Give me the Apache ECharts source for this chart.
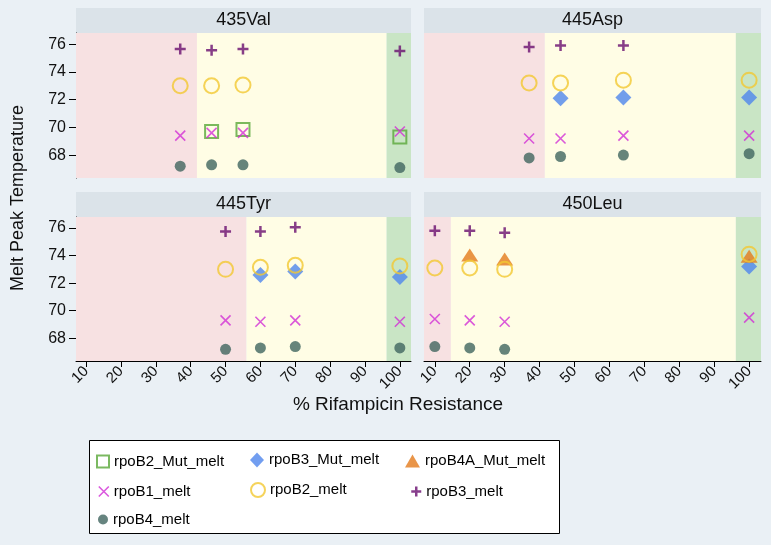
<!DOCTYPE html>
<html><head><meta charset="utf-8">
<script src="https://cdn.jsdelivr.net/npm/echarts@6/dist/echarts.min.js"></script>
<style>html,body{margin:0;padding:0;background:#eaf0f5}#c{width:771px;height:545px}</style>
</head><body><div id="c"></div>
<script>
// ---- data ----
const panels = ['435Val', '445Asp', '445Tyr', '450Leu'];
const xVal = [37, 46, 55, 100];
const xAsp = [37, 46, 64, 100];
const xTyr = [50, 60, 70, 100];
const xLeu = [10, 20, 30, 100];
const panelX = [xVal, xAsp, xTyr, xLeu];
// zone boundaries: [end of pink, start of green]
const zoneVal = [41.8, 96.2];
const zoneAsp = [41.5, 96.2];
const zoneTyr = [56.0, 96.2];
const zoneLeu = [14.6, 96.2];
const zones = [zoneVal, zoneAsp, zoneTyr, zoneLeu];

const xTicks = [10, 20, 30, 40, 50, 60, 70, 80, 90, 100];
const yTicks = [68, 70, 72, 74, 76];

const seriesNames = ['rpoB2_Mut_melt', 'rpoB3_Mut_melt', 'rpoB4A_Mut_melt', 'rpoB1_melt', 'rpoB2_melt', 'rpoB3_melt', 'rpoB4_melt'];
// values per panel [Val, Asp, Tyr, Leu], aligned with panel x arrays
const rpoB2_Mut_melt = [[null, 69.7, 69.85, 69.3], [null, null, null, null], [null, null, null, null], [null, null, null, null]];
const rpoB3_Mut_melt = [[null, null, null, null], [null, 72.1, 72.15, 72.15], [null, 72.6, 72.85, 72.45], [null, null, null, 73.2]];
const rpoB4A_Mut_melt = [[null, null, null, null], [null, null, null, null], [null, null, null, null], [null, 74.05, 73.75, 73.95]];
const rpoB1_melt = [[69.4, 69.6, 69.6, 69.7], [69.2, 69.2, 69.4, 69.4], [69.3, 69.2, 69.3, 69.2], [69.4, 69.3, 69.2, 69.5]];
const rpoB2_melt = [[73.0, 73.0, 73.05, null], [73.2, 73.2, 73.4, 73.4], [73.0, 73.15, 73.3, 73.25], [73.1, 73.1, 73.0, 74.1]];
const rpoB3_melt = [[75.65, 75.55, 75.65, 75.5], [75.8, 75.9, 75.9, null], [75.75, 75.75, 76.05, null], [75.8, 75.8, 75.65, null]];
const rpoB4_melt = [[67.2, 67.3, 67.3, 67.1], [67.8, 67.9, 68.0, 68.1], [67.2, 67.3, 67.4, 67.3], [67.4, 67.3, 67.2, null]];
const seriesValues = [rpoB2_Mut_melt, rpoB3_Mut_melt, rpoB4A_Mut_melt, rpoB1_melt, rpoB2_melt, rpoB3_melt, rpoB4_melt];

// ---- styles ----
const FONT = '"Liberation Sans", Arial, sans-serif';
const PLUS = 'path://M0,5L10,5M5,0L5,10';
const CROSS = 'path://M0,0L10,10M10,0L0,10';
const styles = {
  rpoB2_Mut_melt: {symbol: 'rect', size: 13, itemStyle: {color: 'rgba(0,0,0,0)', borderColor: '#5aa83a', borderWidth: 2}, leg: [12, 12]},
  rpoB3_Mut_melt: {symbol: 'diamond', size: [16, 16], itemStyle: {color: '#4f86ec', borderWidth: 0}, leg: [14, 15]},
  rpoB4A_Mut_melt: {symbol: 'triangle', size: [17, 13], itemStyle: {color: '#e37a1c', borderWidth: 0}, leg: [15, 13]},
  rpoB1_melt: {symbol: CROSS, size: 10, itemStyle: {color: '#d22fd6', borderColor: '#d22fd6', borderWidth: 1.6}, leg: [10, 10]},
  rpoB2_melt: {symbol: 'circle', size: 15, itemStyle: {color: 'rgba(0,0,0,0)', borderColor: '#f2c832', borderWidth: 2}, leg: [14, 14]},
  rpoB3_melt: {symbol: PLUS, size: 11, itemStyle: {color: '#690e6f', borderColor: '#690e6f', borderWidth: 2.5}, leg: [10, 10]},
  rpoB4_melt: {symbol: 'circle', size: 11, itemStyle: {color: '#40655f', borderWidth: 0}, leg: [10, 10]}
};

// ---- layout ----
const grids = [
  {left: 76, top: 33, width: 335, height: 145},
  {left: 424, top: 33, width: 337, height: 145},
  {left: 76, top: 217, width: 335, height: 144},
  {left: 424, top: 217, width: 337, height: 144}
];
const xRanges = [[7.1, 103.2], [6.9, 103.4], [7.1, 103.2], [6.9, 103.4]];
const Y_MIN = 66.35, Y_MAX = 76.8;

const xAxis = grids.map((g, i) => ({
  type: 'value', gridIndex: i, min: xRanges[i][0], max: xRanges[i][1],
  show: i >= 2,
  splitLine: {show: false},
  axisLine: {show: true, onZero: false, lineStyle: {color: '#000', width: 1}},
  axisTick: {show: true, length: 6, lineStyle: {color: '#000'}, customValues: xTicks},
  axisLabel: {customValues: xTicks, rotate: 45, fontSize: 15, color: '#111', fontFamily: FONT, margin: 8}
}));
const yAxis = grids.map((g, i) => ({
  type: 'value', gridIndex: i, min: Y_MIN, max: Y_MAX,
  show: i % 2 === 0,
  splitLine: {show: false},
  axisLine: {show: true, onZero: false, lineStyle: {color: '#000', width: 1}},
  axisTick: {show: true, length: 7, lineStyle: {color: '#000'}, customValues: yTicks},
  axisLabel: {customValues: yTicks, fontSize: 16, color: '#111', fontFamily: FONT, margin: 10}
}));

const series = [];
panels.forEach((p, pi) => {
  const z = zones[pi];
  series.push({
    type: 'scatter', xAxisIndex: pi, yAxisIndex: pi, data: [], silent: true, z: 0,
    markArea: {
      silent: true,
      data: [
        [{xAxis: 'min', itemStyle: {color: '#f7e1e2'}}, {xAxis: z[0]}],
        [{xAxis: z[0], itemStyle: {color: '#fffde5'}}, {xAxis: z[1]}],
        [{xAxis: z[1], itemStyle: {color: '#c9e5c5'}}, {xAxis: 'max'}]
      ]
    }
  });
  seriesNames.forEach((name, si) => {
    const vals = seriesValues[si][pi];
    const data = panelX[pi].map((x, k) => vals[k] == null ? null : [x, vals[k]]).filter(d => d);
    const st = styles[name];
    series.push({
      type: 'scatter', name: name, xAxisIndex: pi, yAxisIndex: pi, data: data,
      symbol: st.symbol, symbolSize: st.size, itemStyle: st.itemStyle, z: 2 + si,
      emphasis: {disabled: true}
    });
  });
});

// legends: one component per item so columns align
const colText = [113, 269, 425];
const rowCenter = [460, 489, 517];
const legendPos = [[0, 0], [1, 0], [2, 0], [0, 1], [1, 1], [2, 1], [0, 2]];
const legend = seriesNames.map((name, i) => {
  const st = styles[name];
  const [w, h] = st.leg;
  const [c, r] = legendPos[i];
  return {
    data: [{name: name, icon: st.symbol, itemStyle: st.itemStyle}],
    left: colText[c] - 5 - w, top: rowCenter[r] - h / 2,
    itemWidth: w, itemHeight: h, itemGap: 5, padding: 0,
    selectedMode: false,
    textStyle: {fontSize: 15, color: '#000', fontFamily: FONT}
  };
});

const graphic = [];
grids.forEach((g, i) => {
  graphic.push({type: 'rect', shape: {x: g.left, y: g.top - 25, width: g.width, height: 25}, style: {fill: '#dbe3e9'}, z: -1});
  graphic.push({type: 'text', x: g.left + g.width / 2, y: g.top - 12.5, style: {text: panels[i], font: '18px ' + FONT, fill: '#111', textAlign: 'center', textVerticalAlign: 'middle'}});
});
graphic.push({type: 'rect', shape: {x: 89.5, y: 440.5, width: 470, height: 93}, style: {fill: '#fff', stroke: '#000', lineWidth: 1}, z: -1});
graphic.push({type: 'text', x: 18, y: 198, rotation: Math.PI / 2, style: {text: 'Melt Peak Temperature', font: '18px ' + FONT, fill: '#111', textAlign: 'center', textVerticalAlign: 'middle'}});
graphic.push({type: 'text', x: 398, y: 405, style: {text: '% Rifampicin Resistance', font: '19px ' + FONT, fill: '#111', textAlign: 'center', textVerticalAlign: 'middle'}});

const chart = echarts.init(document.getElementById('c'), null, {renderer: 'canvas'});
chart.setOption({
  backgroundColor: '#eaf0f5',
  animation: false,
  grid: grids,
  xAxis: xAxis,
  yAxis: yAxis,
  legend: legend,
  graphic: graphic,
  series: series
});
</script>
</body></html>
